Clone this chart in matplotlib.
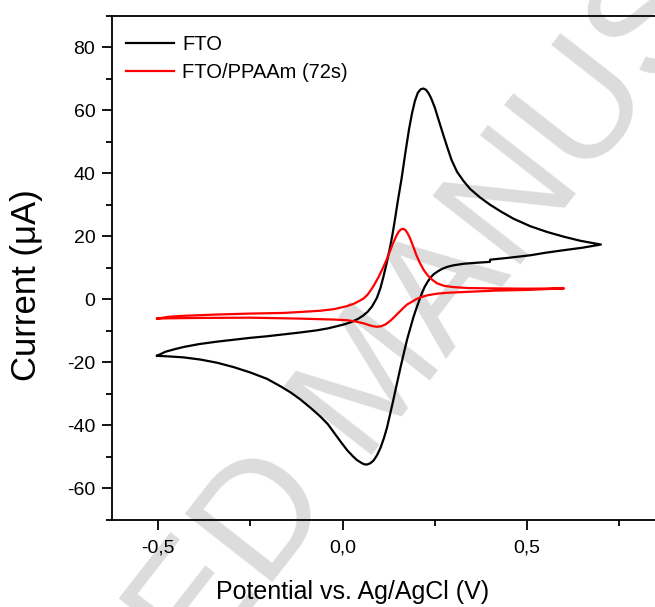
import numpy as np
import matplotlib
matplotlib.use("Agg")
import matplotlib.pyplot as plt
from matplotlib.ticker import MultipleLocator, FuncFormatter

# CV data (potential in V, current in uA)
# FTO: forward (anodic) branch then reverse branch
fto_fwd_v = [-0.503, -0.480, -0.455, -0.431, -0.390, -0.340, -0.295, -0.250, -0.205, -0.160,
             -0.115, -0.069, -0.040, -0.015, 0.005, 0.021, 0.040, 0.055, 0.068, 0.080,
             0.093, 0.103, 0.111, 0.120, 0.128, 0.135, 0.142, 0.150, 0.160, 0.170,
             0.180, 0.188, 0.196, 0.204, 0.212, 0.219, 0.226, 0.233, 0.240, 0.250,
             0.260, 0.272, 0.283, 0.295, 0.310, 0.328, 0.346, 0.373, 0.400, 0.430,
             0.463, 0.509, 0.554, 0.599, 0.644, 0.700]
fto_fwd_i = [-17.9, -16.6, -15.8, -15.1, -14.2, -13.4, -12.8, -12.2, -11.7, -11.1,
             -10.5, -9.8, -9.2, -8.5, -7.9, -7.3, -6.3, -5.2, -3.9, -2.2,
             0.5, 3.8, 7.4, 11.8, 16.2, 20.5, 25.5, 31.5, 38.5, 46.5,
             54.0, 59.0, 63.0, 65.6, 66.7, 66.9, 66.5, 65.4, 63.8, 60.8,
             57.0, 52.5, 48.5, 44.3, 40.5, 37.5, 35.0, 32.3, 30.0, 27.8,
             25.6, 23.2, 21.4, 19.9, 18.6, 17.4]
fto_rev_v = [0.700, 0.650, 0.599, 0.550, 0.509, 0.450, 0.400, 0.399, 0.360, 0.328,
             0.300, 0.283, 0.270, 0.258, 0.247, 0.238, 0.230, 0.222, 0.215, 0.208,
             0.200, 0.192, 0.183, 0.175, 0.167, 0.158, 0.147, 0.135, 0.127, 0.120,
             0.112, 0.103, 0.093, 0.084, 0.075, 0.066, 0.058, 0.050, 0.039, 0.028,
             0.012, -0.005, -0.020, -0.040, -0.060, -0.085, -0.115, -0.140, -0.165, -0.205,
             -0.250, -0.295, -0.340, -0.385, -0.431, -0.470, -0.503]
fto_rev_i = [17.4, 16.4, 15.6, 14.8, 14.0, 13.2, 12.6, 11.9, 11.6, 11.3,
             10.8, 10.3, 9.7, 8.9, 8.0, 6.9, 5.5, 3.9, 2.0, -0.2,
             -2.8, -5.6, -9.3, -12.6, -16.5, -21.0, -26.8, -33.2, -37.3, -40.8,
             -44.0, -47.0, -49.5, -51.1, -52.0, -52.4, -52.3, -51.8, -51.0, -49.8,
             -47.8, -45.2, -42.8, -39.6, -37.2, -34.6, -31.7, -29.6, -27.8, -25.2,
             -23.2, -21.5, -20.1, -19.1, -18.4, -18.1, -17.9]

# FTO/PPAAm (72s)
ppa_fwd_v = [-0.503, -0.470, -0.430, -0.340, -0.250, -0.160, -0.115, -0.060, -0.024, 0.010,
             0.030, 0.045, 0.057, 0.067, 0.077, 0.087, 0.097, 0.107, 0.117, 0.127,
             0.136, 0.145, 0.152, 0.158, 0.164, 0.170, 0.176, 0.183, 0.192, 0.200,
             0.210, 0.220, 0.230, 0.242, 0.256, 0.275, 0.300, 0.340, 0.400, 0.500,
             0.600]
ppa_fwd_i = [-6.1, -5.5, -5.2, -4.8, -4.5, -4.3, -4.0, -3.6, -3.1, -2.2,
             -1.4, -0.5, 0.3, 1.4, 3.0, 4.9, 7.0, 9.4, 12.0, 14.9,
             17.6, 20.0, 21.5, 22.2, 22.4, 22.0, 21.0, 19.3, 16.6, 14.0,
             11.4, 9.3, 7.7, 6.3, 5.1, 4.3, 3.9, 3.6, 3.5, 3.4,
             3.5]
ppa_rev_v = [0.600, 0.500, 0.418, 0.340, 0.283, 0.255, 0.230, 0.212, 0.200, 0.190,
             0.175, 0.163, 0.152, 0.140, 0.128, 0.117, 0.105, 0.093, 0.082, 0.070,
             0.057, 0.039, 0.012, -0.024, -0.115, -0.250, -0.400, -0.470, -0.503]
ppa_rev_i = [3.5, 3.0, 2.8, 2.4, 2.1, 1.8, 1.3, 0.7, 0.1, -0.6,
             -1.6, -2.9, -4.2, -5.6, -6.9, -7.9, -8.5, -8.7, -8.5, -8.1,
             -7.6, -7.1, -6.6, -6.4, -6.1, -5.8, -5.9, -6.0, -6.1]

plt.rcParams["font.family"] = ["Liberation Sans", "DejaVu Sans"]
plt.rcParams["axes.unicode_minus"] = False

fig = plt.figure(figsize=(6.55, 6.07), dpi=100)
# axes run past the right edge of the figure, as in the reference
ax = fig.add_axes([0.171, 0.1433, 0.845, 0.8308])
ax.set_facecolor("none")

# watermark
fig.text(0.573, 0.368, "ACCEPTED MANUSCRIPT", fontsize=116, color="#dcdcdc",
         rotation=52, rotation_mode="anchor", ha="center", va="center", zorder=-1)

ax.plot(fto_fwd_v + fto_rev_v, fto_fwd_i + fto_rev_i, color="black", lw=1.6, label="FTO")
ax.plot(ppa_fwd_v + ppa_rev_v, ppa_fwd_i + ppa_rev_i, color="#ff0000", lw=1.6,
        label="FTO/PPAAm (72s)")

ax.set_xlim(-0.625, 0.875)
ax.set_ylim(-70, 90)
ax.xaxis.set_major_locator(MultipleLocator(0.5))
ax.xaxis.set_minor_locator(MultipleLocator(0.25))
ax.yaxis.set_major_locator(MultipleLocator(20))
ax.yaxis.set_minor_locator(MultipleLocator(10))
ax.xaxis.set_major_formatter(FuncFormatter(lambda v, p: ("%.1f" % v).replace(".", ",")))
ax.yaxis.set_major_formatter(FuncFormatter(lambda v, p: "%d" % v))

ax.tick_params(which="both", direction="out", width=1.3, labelsize=14)
ax.tick_params(which="major", length=7)
ax.tick_params(which="minor", length=4)
ax.tick_params(axis="x", pad=7)
ax.tick_params(axis="y", pad=5)
for s in ax.spines.values():
    s.set_linewidth(1.3)

ax.set_xlabel("Potential vs. Ag/AgCl (V)", fontsize=18)
ax.xaxis.set_label_coords(0.435, -0.119)
ax.set_ylabel("Current (\u03bcA)", fontsize=25)
ax.yaxis.set_label_coords(-0.125, 0.466)

ax.legend(loc="upper left", bbox_to_anchor=(0.0, 0.99), frameon=False, fontsize=14.5,
          handlelength=2.4, handletextpad=0.4, labelspacing=0.45, borderaxespad=0.3)

fig.savefig("out.png", dpi=100)
